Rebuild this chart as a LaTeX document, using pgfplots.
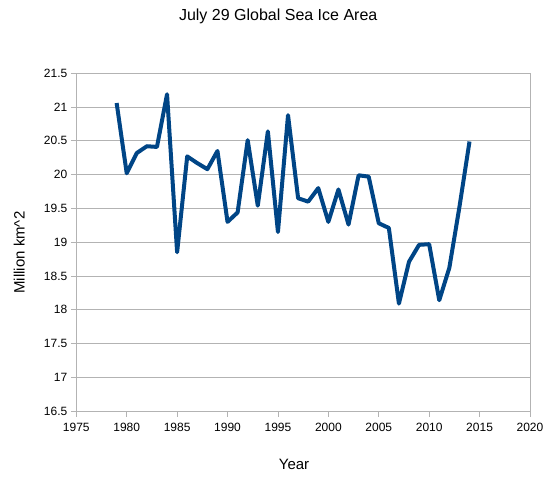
\documentclass[border=0pt]{standalone}
\usepackage{fontspec}
\setmainfont{Liberation Sans}
\usepackage{pgfplots}
\pgfplotsset{compat=1.18}
\definecolor{seaice}{HTML}{004586}
\definecolor{gridgrey}{HTML}{B3B3B3}
\begin{document}
\begin{tikzpicture}
  \path[use as bounding box] (-76.3pt,-66pt) rectangle (472.7pt,411pt);
  \begin{axis}[
    at={(0,0)}, anchor=south west,
    scale only axis,
    width=453.7pt, height=337.7pt,
    xmin=1975, xmax=2020,
    ymin=16.5, ymax=21.5,
    xtick={1975,1980,...,2020},
    ytick={16.5,17,...,21.5},
    /pgf/number format/1000 sep={},
    /pgf/number format/assume math mode=true,
    ymajorgrids,
    grid style={gridgrey, line width=0.8pt},
    axis line style={gridgrey, line width=0.8pt},
    tick style={gridgrey, line width=0.8pt},
    tick align=outside,
    major tick length=5.5pt,
    xtick pos=bottom, ytick pos=left,
    ticklabel style={font=\fontsize{12}{14}\selectfont, black},
    xticklabel style={yshift=-3pt},
    title={July 29 Global Sea Ice Area},
    title style={font=\fontsize{16}{18}\selectfont, at={(axis description cs:0.445,1.151)}, anchor=center},
    xlabel={Year},
    xlabel style={font=\fontsize{15}{17}\selectfont, at={(axis description cs:0.48,-0.158)}, anchor=center},
    ylabel={Million km\^{}2},
    ylabel style={font=\fontsize{15}{17}\selectfont, at={(axis description cs:-0.1256,0.469)}, anchor=center},
  ]
    \addplot[seaice, line width=4pt, line join=round, mark=none] coordinates {
      (1979,21.06) (1980,20.02) (1981,20.32) (1982,20.42) (1983,20.41)
      (1984,21.19) (1985,18.85) (1986,20.27) (1987,20.17) (1988,20.08)
      (1989,20.35) (1990,19.30) (1991,19.44) (1992,20.51) (1993,19.54)
      (1994,20.64) (1995,19.15) (1996,20.88) (1997,19.65) (1998,19.60)
      (1999,19.80) (2000,19.30) (2001,19.78) (2002,19.26) (2003,19.99)
      (2004,19.97) (2005,19.28) (2006,19.21) (2007,18.09) (2008,18.71)
      (2009,18.96) (2010,18.97) (2011,18.14) (2012,18.62) (2013,19.52)
      (2014,20.49)
    };
  \end{axis}
\end{tikzpicture}
\end{document}
